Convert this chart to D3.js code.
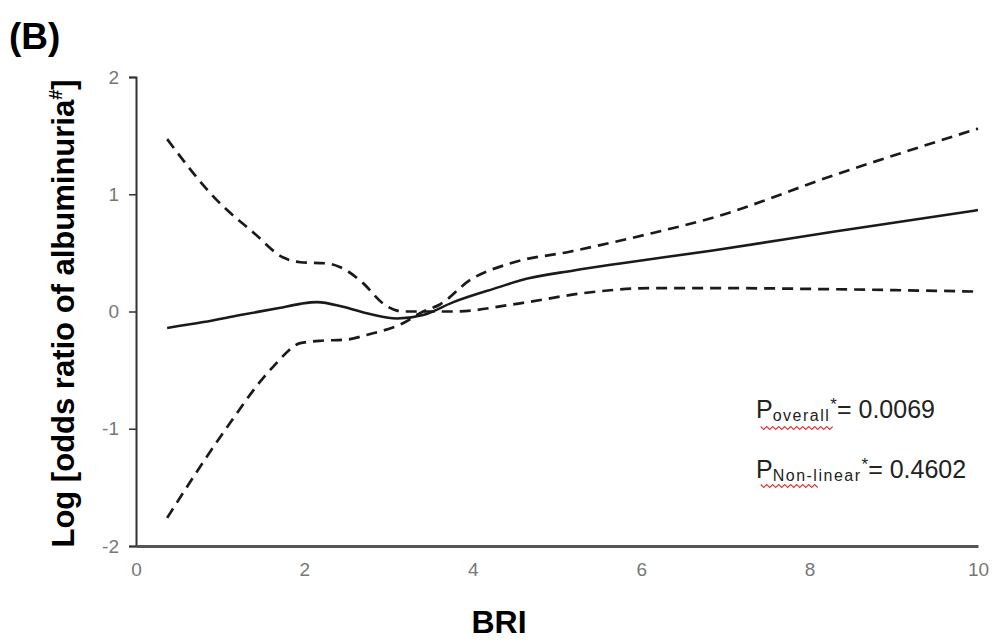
<!DOCTYPE html>
<html>
<head>
<meta charset="utf-8">
<script src="https://cdn.jsdelivr.net/npm/d3@7"></script>
<style>
  body { margin: 0; background: #fff; }
  svg { display: block; font-family: "Liberation Sans", Arial, sans-serif; }
</style>
</head>
<body>
<svg id="chart" width="996" height="642"></svg>
<script>
// values (BRI on x, log odds ratio on y)
const estimateBRI = [0.37, 0.8, 1.24, 1.7, 1.95, 2.15, 2.46, 2.74, 3.1, 3.41, 3.77, 4.32, 4.56, 5.2, 5.75, 6.85, 8.28, 10];
const estimateLogOR = [-0.14, -0.09, -0.03, 0.03, 0.065, 0.08, 0.04, -0.015, -0.06, -0.03, 0.08, 0.21, 0.265, 0.35, 0.41, 0.52, 0.68, 0.865];

// dashed band starting top-left
const bandA_BRI = [0.37, 0.96, 1.4, 1.75, 1.95, 2.27, 2.42, 2.7, 2.93, 3.17, 3.41, 3.77, 4.56, 5.35, 6.14, 6.85, 8.28, 10];
const bandA_LogOR = [1.47, 0.95, 0.67, 0.46, 0.42, 0.41, 0.38, 0.24, 0.07, 0.0, 0.0, 0.0, 0.07, 0.16, 0.2, 0.2, 0.19, 0.17];

// dashed band starting bottom-left
const bandB_BRI = [0.37, 1.03, 1.63, 1.95, 2.18, 2.5, 2.74, 3.17, 3.41, 3.61, 3.97, 4.44, 5.15, 6.14, 6.85, 8.28, 10];
const bandB_LogOR = [-1.76, -1.04, -0.47, -0.27, -0.25, -0.24, -0.2, -0.1, 0.0, 0.06, 0.27, 0.41, 0.51, 0.67, 0.8, 1.16, 1.56];

const xTicks = [0, 2, 4, 6, 8, 10];
const yTicks = [-2, -1, 0, 1, 2];

const svg = d3.select('#chart');

const x = d3.scaleLinear().domain([0, 10]).range([136, 978]);
const y = d3.scaleLinear().domain([-2, 2]).range([546, 77]);

const zip = (xs, ys) => xs.map((v, i) => [v, ys[i]]);

const line = d3.line()
  .x(d => x(d[0]))
  .y(d => y(d[1]))
  .curve(d3.curveMonotoneX);

// y axis
const yAxis = svg.append('g')
  .attr('transform', `translate(${x(0)},0)`)
  .call(d3.axisLeft(y).tickValues(yTicks).tickFormat(d => String(d)).tickSize(7).tickPadding(10));
yAxis.select('.domain').attr('stroke', '#333').attr('stroke-width', 2);
yAxis.selectAll('.tick line').attr('stroke', '#333').attr('stroke-width', 1.5);
yAxis.selectAll('.tick text')
  .attr('fill', '#777')
  .style('font-size', '19px');

// x axis, no ticks
const xAxis = svg.append('g')
  .attr('transform', `translate(0,${y(-2)})`)
  .call(d3.axisBottom(x).tickValues(xTicks).tickSize(0).tickPadding(17));
xAxis.select('.domain').attr('stroke', '#555').attr('stroke-width', 3);
xAxis.selectAll('.tick text')
  .attr('fill', '#777')
  .style('font-size', '19px');

// curves
[zip(bandA_BRI, bandA_LogOR), zip(bandB_BRI, bandB_LogOR)].forEach(band => {
  svg.append('path')
    .datum(band)
    .attr('d', line)
    .attr('fill', 'none')
    .attr('stroke', '#1a1a1a')
    .attr('stroke-width', 2.7)
    .attr('stroke-dasharray', '11,7');
});

svg.append('path')
  .datum(zip(estimateBRI, estimateLogOR))
  .attr('d', line)
  .attr('fill', 'none')
  .attr('stroke', '#1a1a1a')
  .attr('stroke-width', 2.6);

// titles
svg.append('text')
  .attr('x', 9).attr('y', 49)
  .style('font-size', '37px').style('font-weight', 'bold')
  .text('(B)');

svg.append('text')
  .attr('x', 499).attr('y', 633)
  .attr('text-anchor', 'middle')
  .style('font-size', '32px').style('font-weight', 'bold')
  .text('BRI');

const yLab = svg.append('text')
  .attr('transform', `translate(74,${y(0) + 2}) rotate(-90)`)
  .attr('text-anchor', 'middle')
  .style('font-size', '31px').style('font-weight', 'bold');
yLab.append('tspan').text('Log [odds ratio of albuminuria');
yLab.append('tspan').attr('dy', -12).style('font-size', '18px').text('#');
yLab.append('tspan').attr('dy', 12).text(']');

// P value notes with subscript and a red wavy underline
function richText(x0, base, parts) {
  let cx = x0;
  parts.forEach(p => {
    const dy = p.dy || 0;
    const t = svg.append('text')
      .attr('x', cx).attr('y', base + dy)
      .attr('fill', '#222')
      .style('font-size', p.size + 'px')
      .style('letter-spacing', (p.spacing || 0) + 'px')
      .text(p.t);
    const w = t.node().getComputedTextLength();
    if (p.wavy) {
      const len = (w + 12) * p.wavy;
      const pts = d3.range(0, Math.ceil(len / 3) + 1)
        .map(i => [cx - 12 + i * 3, base + dy + p.wavyOff + (i % 2 ? 1.5 : -1.5)]);
      svg.append('path')
        .attr('d', d3.line()(pts))
        .attr('fill', 'none')
        .attr('stroke', '#e0383a')
        .attr('stroke-width', 1.2);
    }
    cx += w;
  });
}

richText(756, 418, [
  { t: 'P', size: 25 },
  { t: 'overall', size: 16, dy: 3, spacing: 1.5, wavy: 1, wavyOff: 7 },
  { t: '*', size: 17, dy: -8 },
  { t: '= 0.0069', size: 25 }
]);
richText(756, 478, [
  { t: 'P', size: 25 },
  { t: 'Non-linear', size: 16, dy: 3, spacing: 1.5, wavy: 0.55, wavyOff: 5 },
  { t: '*', size: 17, dy: -8 },
  { t: '= 0.4602', size: 25 }
]);
</script>
</body>
</html>
